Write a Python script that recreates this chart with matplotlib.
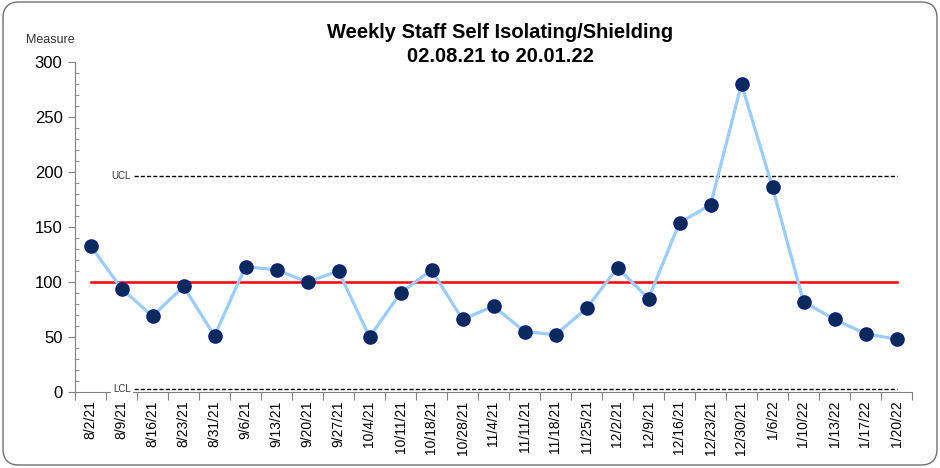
import matplotlib.pyplot as plt
from matplotlib.patches import FancyBboxPatch

plt.rcParams['font.family'] = ['Liberation Sans', 'DejaVu Sans']

fechas = ['8/2/21', '8/9/21', '8/16/21', '8/23/21', '8/31/21', '9/6/21', '9/13/21',
          '9/20/21', '9/27/21', '10/4/21', '10/11/21', '10/18/21', '10/28/21', '11/4/21',
          '11/11/21', '11/18/21', '11/25/21', '12/2/21', '12/9/21', '12/16/21',
          '12/23/21', '12/30/21', '1/6/22', '1/10/22', '1/13/22', '1/17/22', '1/20/22']
valores = [133, 94, 69, 96, 51, 114, 111, 100, 110, 50, 90, 111, 66, 78,
           55, 52, 76, 113, 85, 154, 170, 280, 186, 82, 66, 53, 48]
media = 100
ucl = 196.5
lcl = 3

fig = plt.figure(figsize=(9.4, 4.68), dpi=100)
# marco redondeado (en pulgadas)
fig.patches.append(FancyBboxPatch((0.03, 0.03), 9.34, 4.63, boxstyle='round,pad=0,rounding_size=0.16',
                                  transform=fig.dpi_scale_trans, fill=False, edgecolor='#6f6f6f', linewidth=1))
ax = fig.add_axes([75 / 940, 1 - 392 / 468, (912 - 75) / 940, (392 - 62) / 468])

x = list(range(len(fechas)))
ax.plot(x, valores, color='#99ccff', linewidth=2.3, zorder=3)
ax.plot(x, valores, 'o', markersize=9.5, markerfacecolor='#0b2a5c', markeredgecolor='#0a1f80',
        markeredgewidth=1, zorder=4)
ax.plot([x[0], x[-1]], [media, media], color='#ff0000', linewidth=1.8, zorder=2)
ax.plot([1.4, x[-1]], [ucl, ucl], color='black', linestyle='--', linewidth=1, dashes=(3, 1.5), zorder=2)
ax.plot([1.4, x[-1]], [lcl, lcl], color='black', linestyle='--', linewidth=1, dashes=(3, 1.5), zorder=2)
ax.text(1.3, ucl, 'UCL', fontsize=7, ha='right', va='center', color='#333333')
ax.text(1.3, lcl, 'LCL', fontsize=7, ha='right', va='center', color='#333333',
        bbox=dict(facecolor='white', edgecolor='none', pad=1.5), clip_on=False, zorder=5)

ax.set_xlim(-0.5, len(fechas) - 0.5)
ax.set_ylim(0, 300)
ax.set_yticks(range(0, 301, 50))
ax.set_yticks(range(0, 301, 10), minor=True)
ax.set_xticks([i - 0.5 for i in range(len(fechas) + 1)])
ax.set_xticklabels([])
ax.set_xticks(x, minor=True)
ax.set_xticklabels(fechas, minor=True, fontsize=10)
ax.tick_params(axis='x', which='minor', length=0, pad=6, labelrotation=90)
ax.tick_params(axis='x', which='major', length=6, color='#808080')
ax.tick_params(axis='y', which='major', length=5, color='#808080', labelsize=12, pad=4)
ax.tick_params(axis='y', which='minor', length=3, direction='in', color='#808080')
for s in ['top', 'right']:
    ax.spines[s].set_visible(False)
for s in ['left', 'bottom']:
    ax.spines[s].set_color('#808080')

fig.text(500 / 940, 1 - 33 / 468, 'Weekly Staff Self Isolating/Shielding', ha='center', va='center',
         fontsize=14.5, fontweight='bold')
fig.text(500 / 940, 1 - 57 / 468, '02.08.21 to 20.01.22', ha='center', va='center',
         fontsize=14.5, fontweight='bold')
fig.text(50 / 940, 1 - 40 / 468, 'Measure', ha='center', va='center', fontsize=9, color='#333333')

fig.savefig('out.png', dpi=100)
